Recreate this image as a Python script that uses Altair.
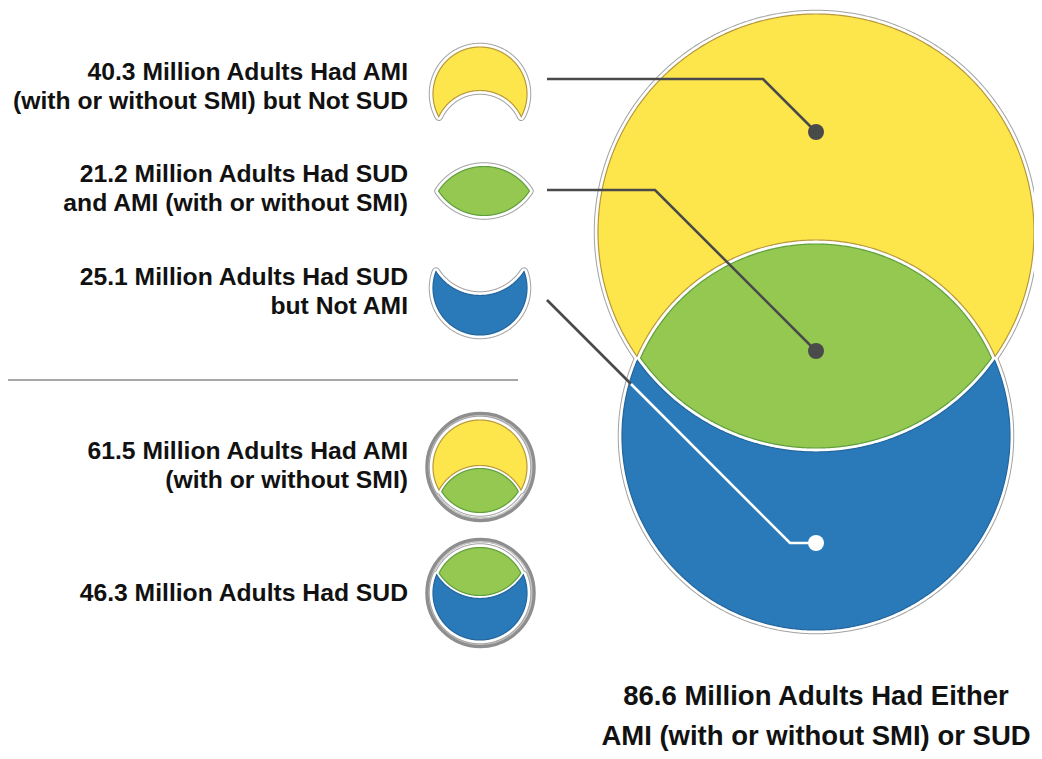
import altair as alt
import numpy as np
import pandas as pd

# ---------------- data ----------------
part_keys = ["ami_not_sud", "sud_and_ami", "sud_not_ami"]
part_values = [40.3, 21.2, 25.1]
total_keys = ["ami", "sud"]
total_values = [61.5, 46.3]
either_value = 86.6

part_lines = [
    [f"{part_values[0]:.1f} Million Adults Had AMI", "(with or without SMI) but Not SUD"],
    [f"{part_values[1]:.1f} Million Adults Had SUD", "and AMI (with or without SMI)"],
    [f"{part_values[2]:.1f} Million Adults Had SUD", "but Not AMI"],
]
total_lines = [
    [f"{total_values[0]:.1f} Million Adults Had AMI", "(with or without SMI)"],
    [f"{total_values[1]:.1f} Million Adults Had SUD"],
]
either_lines = [f"{either_value:.1f} Million Adults Had Either", "AMI (with or without SMI) or SUD"]

# ---------------- layout (pixel positions of the infographic) ----------------
YELLOW, YELLOW_EDGE = "#FDE64C", "#B8983C"
GREEN, GREEN_EDGE = "#94C851", "#5E9F3C"
BLUE, BLUE_EDGE = "#2A7AB9", "#22659E"
DARK = "#4a4a4a"
FONT = "Liberation Sans, Arial, sans-serif"

CX = 816.0
BIG_TOP = (CX, 232.0, 218.0)   # AMI circle (cx, cy, r)
BIG_BOT = (CX, 436.0, 194.0)   # SUD circle

ICONS = [
    ("upper", (480.0, 94.0, 47.0), (480.0, 136.0, 44.0)),
    ("lens", (484.0, 161.0, 56.0), (484.0, 221.0, 56.0)),
    ("lower", (480.0, 243.0, 51.0), (480.0, 288.0, 47.0)),
]
TOTAL_ICONS = [
    (("upper", "lens"), (480.0, 467.0, 47.0), (480.0, 512.0, 45.0)),
    (("lens", "lower"), (480.0, 547.0, 50.0), (480.0, 593.0, 47.0)),
]
RINGS = [(480.5, 467.0), (480.5, 593.0)]
RING_R = 53.0

STYLE = {"upper": (YELLOW, YELLOW_EDGE), "lens": (GREEN, GREEN_EDGE), "lower": (BLUE, BLUE_EDGE)}


def disk_y(c, x):
    cx, cy, r = c
    s = np.sqrt(np.clip(r * r - (x - cx) ** 2, 0, None))
    return cy - s, cy + s


def cos_samples(cx, r, n=361):
    t = np.linspace(np.pi, 0, n)
    return cx + r * np.cos(t)


def intersect_x(c1, c2):
    cx, y1, r1 = c1
    _, y2, r2 = c2
    d = y2 - y1
    a = (d * d + r1 * r1 - r2 * r2) / (2 * d)
    h = np.sqrt(max(r1 * r1 - a * a, 0))
    return cx - h, cx + h


def grow(c, g):
    return (c[0], c[1], c[2] + g)


def region(kind, top, bot, g):
    if kind == "upper":
        B = grow(bot, g)
        xl, xr = intersect_x(top, B)
        xs = np.unique(np.concatenate([cos_samples(top[0], top[2]), [xl, xr]]))
        t0, t1 = disk_y(top, xs)
        b0, _ = disk_y(B, xs)
        inB = np.abs(xs - B[0]) <= B[2]
        y, y2 = t0, np.where(inB, np.minimum(t1, b0), t1)
    elif kind == "lower":
        A = grow(top, g)
        xl, xr = intersect_x(A, bot)
        xs = np.unique(np.concatenate([cos_samples(bot[0], bot[2]), [xl, xr]]))
        b0, b1 = disk_y(bot, xs)
        _, a1 = disk_y(A, xs)
        inA = np.abs(xs - A[0]) <= A[2]
        y, y2 = np.where(inA, np.maximum(b0, a1), b0), b1
    else:
        A = grow(top, -g)
        B = grow(bot, -g)
        xl, xr = intersect_x(A, B)
        t = np.linspace(np.pi, 0, 361)
        xs = (xl + xr) / 2 + (xr - xl) / 2 * np.cos(t)
        _, a1 = disk_y(A, xs)
        b0, _ = disk_y(B, xs)
        y, y2 = b0, np.maximum(a1, b0)
    return xs, y, y2


frames = []


def add_region(rid, kind, top, bot, g):
    xs, y, y2 = region(kind, top, bot, g)
    fill, edge = STYLE[kind]
    frames.append(pd.DataFrame({"rid": rid, "x": xs, "y": y, "y2": y2, "fill": fill, "edge": edge}))


add_region("big_upper", "upper", BIG_TOP, BIG_BOT, 2.0)
add_region("big_lens", "lens", BIG_TOP, BIG_BOT, 2.0)
add_region("big_lower", "lower", BIG_TOP, BIG_BOT, 2.0)
for key, (kind, top, bot) in zip(part_keys, ICONS):
    add_region("icon_" + key, kind, top, bot, 1.5)
for key, (kinds, top, bot) in zip(total_keys, TOTAL_ICONS):
    for kind in kinds:
        add_region(f"tot_{key}_{kind}", kind, top, bot, 1.5)

regions_df = pd.concat(frames, ignore_index=True)

# 1:1 pixel mapping (page margin of 8px)
XS = alt.Scale(domain=[8, 1034], nice=False, zero=False)
YS = alt.Scale(domain=[8, 751], nice=False, zero=False, reverse=True)


def X(f="x"):
    return alt.X(f"{f}:Q", scale=XS, axis=None)


def Y(f="y"):
    return alt.Y(f"{f}:Q", scale=YS, axis=None)


area_base = alt.Chart(regions_df).encode(x=X(), y=Y(), y2=alt.Y2("y2:Q"), detail="rid:N")
halo_gray = area_base.mark_area(orient="vertical", fill="#ffffff", stroke="#a2a2a2",
                                strokeWidth=8.5, strokeJoin="round")
halo_white = area_base.mark_area(orient="vertical", fill="#ffffff", stroke="#ffffff",
                                 strokeWidth=6.5, strokeJoin="round")
fills = area_base.mark_area(orient="vertical", strokeWidth=1.2).encode(
    fill=alt.Fill("fill:N", scale=None), stroke=alt.Stroke("edge:N", scale=None)
)

# symbol size is the area of the bounding square: (2r)^2
rings_df = pd.DataFrame({"x": [r[0] for r in RINGS], "y": [r[1] for r in RINGS]})
rings_outer = alt.Chart(rings_df).mark_point(
    shape="circle", filled=False, size=float((2 * RING_R) ** 2), strokeWidth=4.5,
    color="#8e8e8e", opacity=1
).encode(x=X(), y=Y())
rings_inner = alt.Chart(rings_df).mark_point(
    shape="circle", filled=False, size=float((2 * (RING_R - 1.7)) ** 2), strokeWidth=1.3,
    color="#c8c8c8", opacity=1
).encode(x=X(), y=Y())

sep_df = pd.DataFrame({"x": [8.0], "x2": [518.0], "y": [380.0]})
sep = alt.Chart(sep_df).mark_rule(color="#8a8a8a", strokeWidth=1.5).encode(
    x=X(), x2=alt.X2("x2:Q"), y=Y()
)

lines_df = pd.DataFrame({
    "lid": ["a", "a", "a", "b", "b", "b", "c", "c", "w", "w", "w"],
    "seq": [0, 1, 2, 0, 1, 2, 0, 1, 0, 1, 2],
    "x": [547, 763, CX, 547, 655, CX, 547, 631, 631, 790, CX],
    "y": [79, 79, 132, 190, 190, 351, 300, 384, 384, 543, 543],
})
dark_lines = alt.Chart(lines_df[lines_df.lid != "w"]).mark_line(
    color=DARK, strokeWidth=2.6, strokeJoin="miter"
).encode(x=X(), y=Y(), detail="lid:N", order="seq:Q")
white_lines = alt.Chart(lines_df[lines_df.lid == "w"]).mark_line(
    color="#ffffff", strokeWidth=2.6, strokeJoin="miter"
).encode(x=X(), y=Y(), detail="lid:N", order="seq:Q")

dots_df = pd.DataFrame({"x": [CX, CX, CX], "y": [132, 351, 543], "c": [DARK, DARK, "#ffffff"]})
dots = alt.Chart(dots_df).mark_circle(size=256, opacity=1).encode(
    x=X(), y=Y(), color=alt.Color("c:N", scale=None)
)

LEFT_X = 408
part_base = [80, 182, 285]
total_base = [459, 601]
LINE_GAP = 28.5
rows = []
for lines, b in zip(part_lines + total_lines, part_base + total_base):
    for i, t in enumerate(lines):
        rows.append({"x": LEFT_X, "y": b + i * LINE_GAP, "t": t})
left_text = alt.Chart(pd.DataFrame(rows)).mark_text(
    align="right", baseline="alphabetic", font=FONT, fontSize=24.7, fontWeight="bold", color="#111111"
).encode(x=X(), y=Y(), text="t:N")

bottom_df = pd.DataFrame({"x": [816, 816], "y": [705, 745], "t": either_lines})
bottom_text = alt.Chart(bottom_df).mark_text(
    align="center", baseline="alphabetic", font=FONT, fontSize=27.5, fontWeight="bold", color="#111111"
).encode(x=X(), y=Y(), text="t:N")

chart = alt.layer(
    rings_outer, rings_inner, halo_gray, halo_white, fills, sep, dark_lines, white_lines, dots,
    left_text, bottom_text
).properties(
    width=1026, height=743, padding=0, autosize=alt.AutoSizeParams(type="none"), background="#ffffff"
).configure_view(stroke=None)

chart.save("out.html", embed_options={"renderer": "svg", "actions": False})
